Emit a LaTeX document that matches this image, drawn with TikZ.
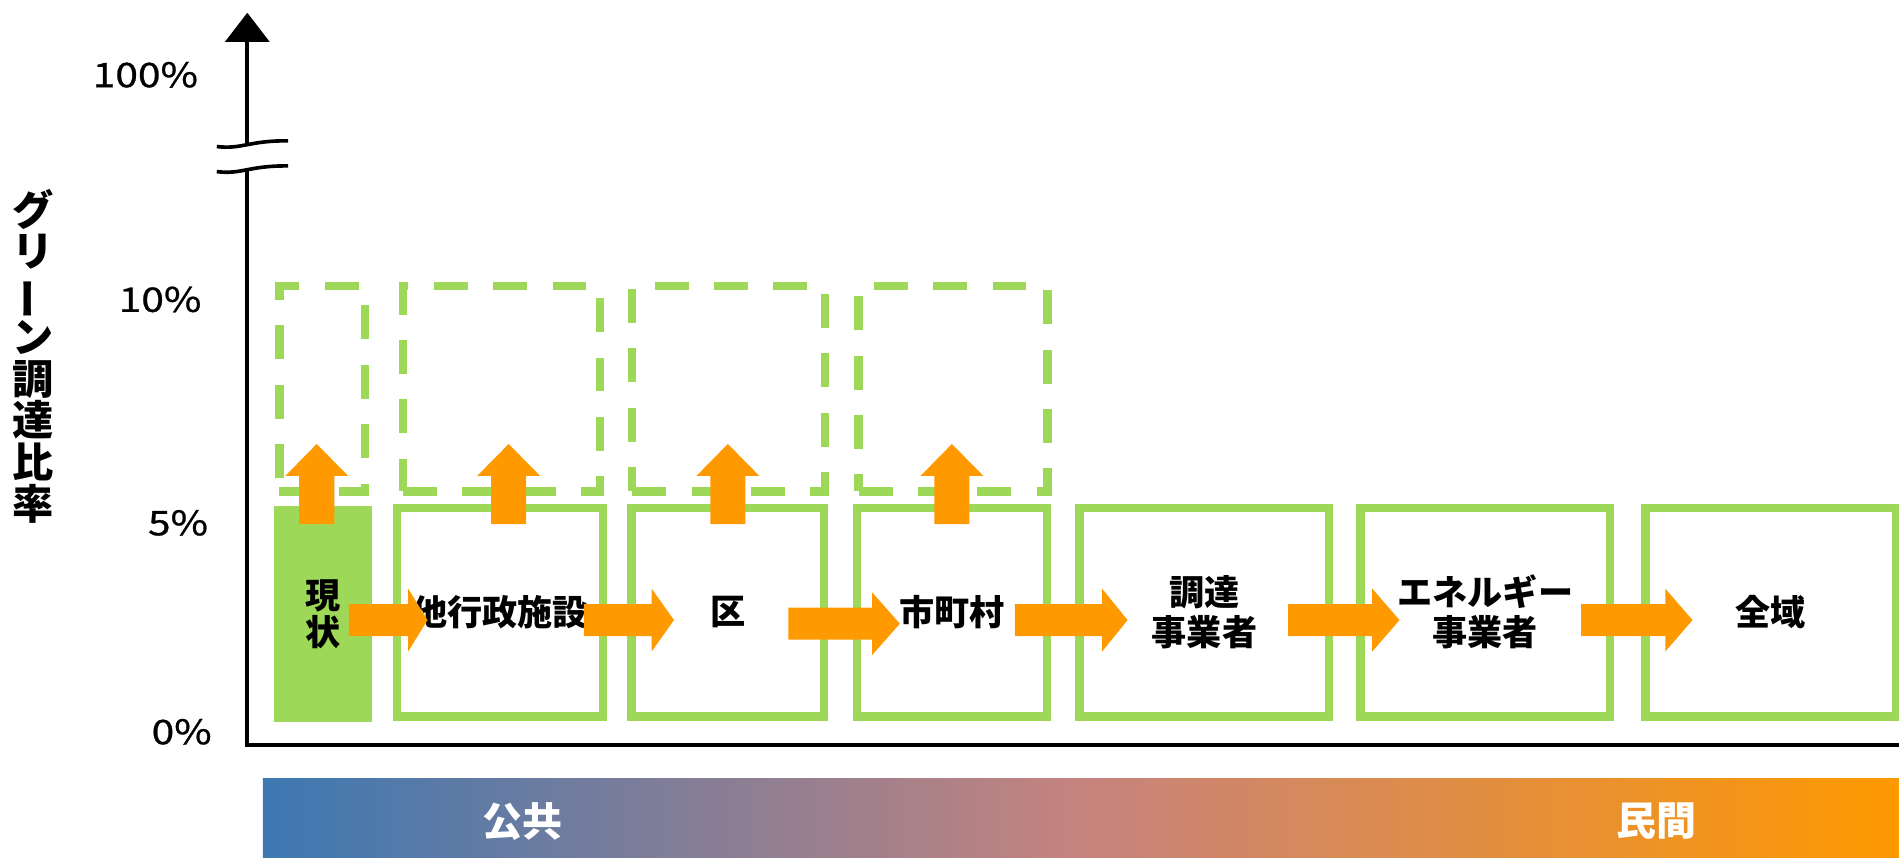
\documentclass[tikz,border=0pt]{standalone}
\usepackage{fontspec}
\usepackage{graphicx}
\usetikzlibrary{arrows.meta}
\setmainfont{Noto Sans CJK JP}
\newfontfamily\numfont[FakeStretch=1.2,FakeBold=0.8]{Noto Sans CJK JP}
\definecolor{pgreen}{RGB}{158,216,88}
\definecolor{porange}{RGB}{255,153,0}
\definecolor{gblue}{RGB}{60,120,178}
\definecolor{grose}{RGB}{198,131,126}
% block arrow to the right: start, head base, tip, mid height
\newcommand{\rightblock}[4]{%
  \fill[porange] (#1,#4-13.2) -- (#2,#4-13.2) -- (#2,#4-26) -- (#3,#4)
    -- (#2,#4+26) -- (#2,#4+13.2) -- (#1,#4+13.2) -- cycle;
}
% block arrow upwards, centred on x
\newcommand{\upblock}[1]{%
  \fill[porange] (#1-14.5,432.7) -- (#1-14.5,393) -- (#1-26,393) -- (#1,366.6)
    -- (#1+26,393) -- (#1+14.5,393) -- (#1+14.5,432.7) -- cycle;
}
\begin{document}
\begin{tikzpicture}[
      x=1pt,y=-1pt,
      every node/.style={inner sep=0pt,font=\bfseries\fontsize{29}{33}\selectfont},
      stagebox/.style={draw=pgreen,line width=7pt,minimum height=172pt,align=center},
      targetbox/.style={draw=pgreen,line width=7pt,dash pattern=on 28pt off 21pt,minimum height=169.5pt},
      ticklabel/.style={anchor=base east,font=\numfont\fontsize{28}{28}\selectfont},
      axisline/.style={line width=3.6pt}
    ]
      \useasboundingbox (0,0) rectangle (1568,708);
      % bar below the axis
      \shade[left color=gblue,right color=porange,middle color=grose] (217,643) rectangle (1570,708);
      \node[text=white,font=\bfseries\fontsize{33}{33}\selectfont] (public) at (431.5,678) {公共};
      \node[text=white,font=\bfseries\fontsize{33}{33}\selectfont] (private) at (1367.5,678) {民間};
      % axes
      \coordinate (origin) at (204.2,615);
      \coordinate (ytop) at (204.2,10.5);
      \coordinate (xend) at (1570,615);
      \draw[axisline,-{Triangle[width=36pt,length=24pt]}] (origin) -- (ytop);
      \draw[axisline] (202.4,615) -- (xend);
      \fill[white] (179,121) .. controls (200,123.5) and (205,116) .. (238,116.3)
        -- (238,137) .. controls (205,136.7) and (200,144.2) .. (179,141.7) -- cycle;
      \draw[line width=3pt] (179,121) .. controls (200,123.5) and (205,116) .. (238,116.3);
      \draw[line width=3pt] (179,141.7) .. controls (200,144.2) and (205,136.7) .. (238,137);
      \node[ticklabel] (t100) at (163.7,72) {100\%};
      \node[ticklabel] (t10) at (166.5,257.5) {10\%};
      \node[ticklabel] (t5) at (172,442) {5\%};
      \node[ticklabel] (t0) at (175,614.5) {0\%};
      \node[font=\bfseries\fontsize{34}{34.4}\selectfont,align=center] (ylabel) at (27.5,294)
        {グ\\リ\\\rotatebox[origin=c]{90}{ー}\\ン\\調\\達\\比\\率};
      % targets
      \node[targetbox,minimum width=70.5pt] (goal1) at (266,321) {};
      \node[targetbox,minimum width=162.5pt] (goal2) at (414,321) {};
      \node[targetbox,minimum width=159pt] (goal3) at (601.5,321) {};
      \node[targetbox,minimum width=156pt] (goal4) at (787,321) {};
      % stages
      \node[fill=pgreen,minimum width=81pt,minimum height=178pt,align=center,
        font=\bfseries\fontsize{29}{30.5}\selectfont] (now) at (266.5,507) {現\\状};
      \node[stagebox,minimum width=170pt] (gov) at (413,505.5) {他行政施設};
      \node[stagebox,minimum width=159pt] (ward) at (601,505.5) {区};
      \node[stagebox,minimum width=157pt] (city) at (786,505.5) {市町村};
      \node[stagebox,minimum width=206pt] (supplier) at (994.5,505.5) {調達\\事業者};
      \node[stagebox,minimum width=206pt] (energy) at (1226.5,505.5) {エネルギー\\事業者};
      \node[stagebox,minimum width=207pt] (all) at (1462,505.5) {全域};
      % arrows
      \foreach \ux in {261.5,420,601,786}
        \upblock{\ux};
      \foreach \xa/\xb/\xc/\yc in {288/337/353/512, 482/538/556.5/512, 651/720/743/515,
          838/910/931/512, 1063.5/1133/1155.6/512, 1305.6/1375/1397.5/512}
        \rightblock{\xa}{\xb}{\xc}{\yc};
    \end{tikzpicture}
\end{document}
